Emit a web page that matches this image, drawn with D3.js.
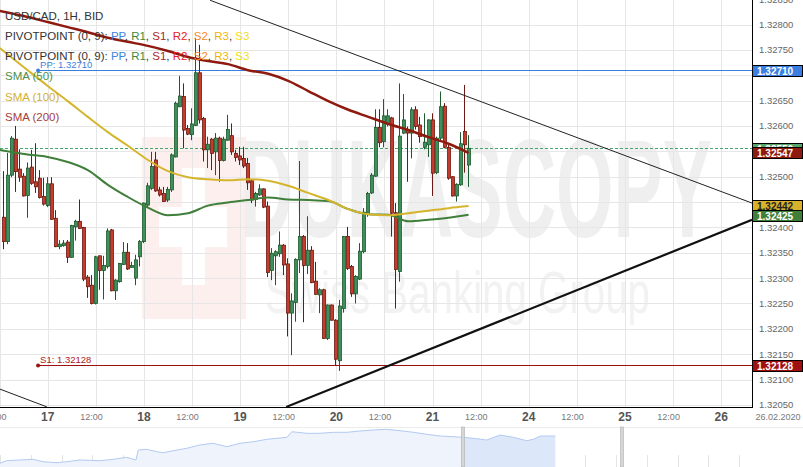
<!DOCTYPE html>
<html><head><meta charset="utf-8">
<script src="https://cdn.jsdelivr.net/npm/d3@7"></script>
<style>body{margin:0;background:#fff;overflow:hidden}svg{display:block;font-family:"Liberation Sans",Arial,sans-serif}</style>
</head><body><svg id="c" width="803" height="467"></svg>
<script>
// ---------- DATA ----------
// hours counted from Mon 17 Feb 2020 00:00 (weekend skipped)
const candleStartHour = -11;
const open  = [1.32420,1.32372,1.32503,1.32574,1.32515,1.32501,1.32463,1.32519,1.32490,1.32497,1.32461,1.32443,1.32486,1.32418,1.32362,1.32364,1.32371,1.32341,1.32401,1.32412,1.32400,1.32302,1.32286,1.32250,1.32344,1.32315,1.32323,1.32395,1.32275,1.32293,1.32327,1.32351,1.32321,1.32300,1.32342,1.32372,1.32444,1.32477,1.32533,1.32474,1.32467,1.32454,1.32474,1.32539,1.32638,1.32658,1.32595,1.32583,1.32601,1.32705,1.32615,1.32553,1.32574,1.32549,1.32576,1.32532,1.32572,1.32581,1.32546,1.32541,1.32536,1.32526,1.32492,1.32455,1.32464,1.32476,1.32442,1.32315,1.32344,1.32348,1.32365,1.32328,1.32231,1.32252,1.32336,1.32382,1.32325,1.32355,1.32294,1.32267,1.32277,1.32181,1.32247,1.32217,1.32137,1.32240,1.32382,1.32323,1.32269,1.32298,1.32352,1.32428,1.32468,1.32501,1.32597,1.32569,1.32604,1.32616,1.32429,1.32313,1.32586,1.32593,1.32586,1.32632,1.32602,1.32558,1.32563,1.32612,1.32508,1.32576,1.32639,1.32558,1.32500,1.32462,1.32484,1.32589,1.32523];
const high  = [1.32511,1.32547,1.32580,1.32600,1.32554,1.32507,1.32528,1.32553,1.32566,1.32513,1.32498,1.32499,1.32499,1.32434,1.32375,1.32375,1.32375,1.32405,1.32415,1.32455,1.32401,1.32306,1.32306,1.32344,1.32344,1.32344,1.32398,1.32397,1.32298,1.32330,1.32371,1.32369,1.32332,1.32346,1.32375,1.32449,1.32488,1.32549,1.32549,1.32480,1.32480,1.32480,1.32546,1.32648,1.32699,1.32684,1.32602,1.32635,1.32774,1.32760,1.32618,1.32579,1.32576,1.32586,1.32579,1.32579,1.32622,1.32605,1.32553,1.32559,1.32559,1.32537,1.32494,1.32470,1.32485,1.32477,1.32451,1.32359,1.32355,1.32392,1.32367,1.32339,1.32270,1.32339,1.32531,1.32385,1.32422,1.32363,1.32332,1.32280,1.32279,1.32248,1.32248,1.32219,1.32257,1.32383,1.32401,1.32326,1.32306,1.32369,1.32438,1.32470,1.32507,1.32633,1.32633,1.32653,1.32633,1.32618,1.32448,1.32684,1.32663,1.32599,1.32637,1.32639,1.32618,1.32625,1.32613,1.32625,1.32579,1.32668,1.32645,1.32563,1.32501,1.32487,1.32588,1.32681,1.32582];
const low   = [1.32357,1.32367,1.32499,1.32470,1.32490,1.32461,1.32419,1.32484,1.32468,1.32457,1.32443,1.32440,1.32415,1.32361,1.32357,1.32362,1.32330,1.32340,1.32374,1.32397,1.32294,1.32261,1.32248,1.32248,1.32277,1.32258,1.32319,1.32274,1.32257,1.32291,1.32326,1.32316,1.32320,1.32286,1.32323,1.32369,1.32440,1.32474,1.32470,1.32461,1.32450,1.32450,1.32470,1.32538,1.32637,1.32556,1.32582,1.32572,1.32600,1.32605,1.32530,1.32517,1.32513,1.32503,1.32490,1.32530,1.32571,1.32543,1.32530,1.32523,1.32517,1.32474,1.32448,1.32441,1.32462,1.32438,1.32302,1.32296,1.32286,1.32342,1.32306,1.32185,1.32148,1.32214,1.32310,1.32213,1.32308,1.32290,1.32267,1.32231,1.32180,1.32178,1.32216,1.32127,1.32117,1.32232,1.32316,1.32263,1.32250,1.32296,1.32349,1.32421,1.32466,1.32500,1.32558,1.32558,1.32599,1.32382,1.32240,1.32293,1.32584,1.32490,1.32536,1.32593,1.32567,1.32554,1.32539,1.32462,1.32505,1.32572,1.32556,1.32494,1.32461,1.32451,1.32482,1.32508,1.32480];
const close = [1.32372,1.32503,1.32576,1.32510,1.32499,1.32462,1.32517,1.32487,1.32480,1.32459,1.32446,1.32486,1.32416,1.32362,1.32367,1.32369,1.32341,1.32404,1.32412,1.32398,1.32298,1.32283,1.32250,1.32342,1.32315,1.32325,1.32393,1.32275,1.32296,1.32329,1.32351,1.32318,1.32325,1.32336,1.32372,1.32448,1.32482,1.32520,1.32472,1.32464,1.32451,1.32475,1.32543,1.32645,1.32659,1.32592,1.32584,1.32604,1.32705,1.32612,1.32553,1.32564,1.32546,1.32576,1.32532,1.32574,1.32593,1.32549,1.32538,1.32533,1.32521,1.32488,1.32454,1.32467,1.32476,1.32440,1.32311,1.32349,1.32352,1.32365,1.32326,1.32231,1.32255,1.32337,1.32382,1.32325,1.32355,1.32291,1.32268,1.32277,1.32181,1.32247,1.32217,1.32140,1.32245,1.32382,1.32319,1.32269,1.32303,1.32353,1.32430,1.32467,1.32503,1.32597,1.32567,1.32620,1.32620,1.32428,1.32317,1.32580,1.32612,1.32586,1.32632,1.32599,1.32579,1.32568,1.32612,1.32507,1.32576,1.32638,1.32558,1.32497,1.32462,1.32485,1.32565,1.32563,1.32556];

const smaHours = [-12,-5,0,5,10,15,20,25,30,35,40,45,50,55,60,65,70,75,80,85,90,95,100,105];
const sma50  = [1.32553,1.32544,1.32539,1.32529,1.32513,1.32484,1.32460,1.32439,1.32424,1.32428,1.32443,1.32449,1.32454,1.32459,1.32455,1.32454,1.32452,1.32436,1.32426,1.32425,1.32412,1.32415,1.32419,1.32425];
const sma100 = [1.32754,1.32710,1.32679,1.32649,1.32618,1.32588,1.32561,1.32533,1.32511,1.32499,1.32495,1.32493,1.32495,1.32492,1.32482,1.32468,1.32454,1.32436,1.32426,1.32424,1.32428,1.32433,1.32438,1.32442];
const sma200 = [1.32827,1.32815,1.32805,1.32795,1.32785,1.32774,1.32766,1.32758,1.32748,1.32736,1.32728,1.32722,1.32710,1.32703,1.32689,1.32669,1.32649,1.32632,1.32618,1.32604,1.32592,1.32578,1.32565,1.32547];

const pivotNames  = ["PP","S1"];
const pivotValues = [1.32710, 1.32128];
const pivotStartHour = -2.4;
const lastClose = 1.32556;

const trendUpper     = [[40.5,1.32848],[175.7,1.32448]];
const trendLowerLeft = [[-11.9,1.32081],[-0.2,1.32046]];
const trendLower     = [[59.5,1.32046],[175.7,1.32415]];

const yTicks = [1.3205,1.3210,1.3215,1.3220,1.3225,1.3230,1.3235,1.3240,1.3245,1.3250,1.3255,1.3260,1.3265,1.3270,1.3275,1.3280,1.3285];
const xTickHours  = [-12,0,12,24,36,48,60,72,84,96,108,120,132,144,156,168];
const xTickLabels = ["12:00","17","12:00","18","12:00","19","12:00","20","12:00","21","12:00","24","12:00","25","12:00","26"];
const dateLabel = "26.02.2020";

const navIndex  = [0,1.7,5.2,8.6,11.2,14.8,17.3,20.8,26,29.4,32.9,35.3,35.9,38.1,40.7,42.4,45,48.5,51.9,55.4,58.9,62.3,65.8,69.3,74.5,75.8,79.7,83.1,86.6,90.1,93.5,97,100.4,103.9,107.4,110.8,114.3,117.7,120.3,122.9,126.4,129.9,133.3,136.8,138.5,140.3,144.2];
const navValues = [8.8,15,16.7,18.3,12.6,10.2,12.6,16.7,15,18.3,23.1,16.7,40.5,42.1,36.4,34,38.8,44.5,52.4,56.4,48.3,56.4,60.2,65.9,70.7,84,80.2,80.2,82.6,82.6,85.7,88.1,89.7,86.4,82.6,77.8,73.8,72.1,70.7,68.3,64.3,76.2,70.7,62.6,65.9,73.8,73.8];
const navWindow = [120.3, 161.6];

const sideLabelValues = [1.32710, 1.32556, 1.32547, 1.32442, 1.32425, 1.32128];

// ---------- LAYOUT ----------
const plotR = 752, plotB = 407;
const x = d3.scaleLinear().domain([-11.9, 175.7]).range([0, plotR]);
const y = d3.scaleLinear().domain([1.320458, 1.328485]).range([plotB, 0]);
const navX = d3.scaleLinear().domain([0, 195.3]).range([0, plotR]);
const navY = d3.scaleLinear().domain([0, 100]).range([467, 425]);
const fmt = d3.format(".5f");

const svg = d3.select("#c");
svg.append("rect").attr("width",803).attr("height",467).attr("fill","#fff");
const defs = svg.append("defs");
defs.append("clipPath").attr("id","plot").append("rect").attr("x",0).attr("y",0).attr("width",plotR).attr("height",plotB);

// watermark
const wm = svg.append("g").attr("clip-path","url(#plot)");
wm.append("rect").attr("x",142).attr("y",137).attr("width",104).attr("height",182).attr("fill","#fcefee");
wm.append("rect").attr("x",182).attr("y",168).attr("width",23).attr("height",117).attr("fill","#fff");
wm.append("rect").attr("x",159).attr("y",207).attr("width",68).attr("height",40).attr("fill","#fff");
wm.append("text").attr("x",240).attr("y",237).attr("font-size",140).attr("font-weight","bold")
  .attr("textLength",472).attr("lengthAdjust","spacingAndGlyphs").attr("fill","#efefef").text("DUKASCOPY");
wm.append("text").attr("x",265).attr("y",313).attr("font-size",60)
  .attr("textLength",385).attr("lengthAdjust","spacingAndGlyphs").attr("fill","#f2f2f2").text("Swiss Banking Group");

// grid
const grid = svg.append("g");
grid.selectAll("line.h").data(yTicks).join("line")
  .attr("x1",0).attr("x2",plotR).attr("y1",d=>Math.round(y(d))+0.5).attr("y2",d=>Math.round(y(d))+0.5)
  .attr("stroke","#e6e6e6");
grid.selectAll("line.v").data(xTickHours).join("line")
  .attr("x1",d=>Math.round(x(d))+0.5).attr("x2",d=>Math.round(x(d))+0.5).attr("y1",0).attr("y2",plotB)
  .attr("stroke","#e6e6e6");

// navigator
const nav = svg.append("g");
nav.append("line").attr("x1",0).attr("x2",803).attr("y1",427.5).attr("y2",427.5).attr("stroke","#ececec");
const navTicks = d3.range(0, 196, 8);
nav.selectAll("line.t").data(navTicks).join("line")
  .attr("x1",d=>Math.round(navX(d))+0.5).attr("x2",d=>Math.round(navX(d))+0.5)
  .attr("y1",455).attr("y2",467).attr("stroke","#e4e4e4");
const navData = navIndex.map((n,i)=>({n, v:navValues[i]}));
const navArea = d3.area().x(d=>navX(d.n)).y0(467).y1(d=>navY(d.v));
nav.append("path").datum(navData).attr("d",navArea).attr("fill","#eef3fc");
defs.append("clipPath").attr("id","navwin").append("rect")
  .attr("x",navX(navWindow[0])).attr("y",420).attr("width",navX(navWindow[1])-navX(navWindow[0])).attr("height",50);
nav.append("path").datum(navData).attr("d",navArea).attr("fill","#dde7fa").attr("clip-path","url(#navwin)");
nav.append("path").datum(navData).attr("d",d3.line().x(d=>navX(d.n)).y(d=>navY(d.v)))
  .attr("fill","none").attr("stroke","#b3caf1").attr("stroke-width",1);
navWindow.forEach(w=>{
  nav.append("rect").attr("x",Math.round(navX(w))-1.5).attr("y",427).attr("width",3).attr("height",40)
    .attr("fill","#d6d6d6").attr("stroke","#b0b0b0").attr("stroke-width",0.6);
});

// main plot layers
const plot = svg.append("g").attr("clip-path","url(#plot)");

// last close dashed
plot.append("line").attr("x1",0).attr("x2",plotR)
  .attr("y1",Math.round(y(lastClose))+0.5).attr("y2",Math.round(y(lastClose))+0.5)
  .attr("stroke","#4aa56a").attr("stroke-dasharray","3,2");

// pivot lines
const pivotColors = ["#3a7fe0","#9b1010"];
pivotValues.forEach((v,i)=>{
  const yy = Math.round(y(v))+0.5;
  plot.append("line").attr("x1",x(pivotStartHour)).attr("x2",plotR).attr("y1",yy).attr("y2",yy)
    .attr("stroke",pivotColors[i]).attr("stroke-width",1);
  plot.append("circle").attr("cx",x(pivotStartHour)).attr("cy",yy).attr("r",2).attr("fill",pivotColors[i]);
  plot.append("text").attr("x",x(pivotStartHour)+2).attr("y",yy-3).attr("font-size",9.5)
    .attr("fill",i===0?"#3a7fe0":"#b02020").text(pivotNames[i]+": "+fmt(v));
});

// candles
const candles = open.map((o,i)=>({t:candleStartHour+i,o,h:high[i],l:low[i],c:close[i]}));
const cg = plot.append("g");
candles.forEach(d=>{
  const up = d.c >= d.o;
  const cx = Math.round(x(d.t));
  const wickCol = up ? "#1d5a2d" : "#6a1a12";
  cg.append("line").attr("x1",cx-0.5).attr("x2",cx-0.5).attr("y1",y(d.h)).attr("y2",y(d.l))
    .attr("stroke",wickCol).attr("stroke-width",1);
  const top = y(Math.max(d.o,d.c)), bot = y(Math.min(d.o,d.c));
  cg.append("rect").attr("x",cx-1.5).attr("y",top).attr("width",3).attr("height",Math.max(1,bot-top))
    .attr("fill", up ? "#3f8f5c" : "#c63c2c").attr("stroke",wickCol).attr("stroke-width",0.8);
});

// SMAs
const smaLine = d3.line().x(d=>x(d[0])).y(d=>y(d[1])).curve(d3.curveMonotoneX);
[[sma50,"#3f7f3a",2],[sma100,"#d5b52c",2],[sma200,"#8e1a0f",2.5]].forEach(([arr,col,w])=>{
  plot.append("path").datum(smaHours.map((h,i)=>[h,arr[i]])).attr("d",smaLine)
    .attr("fill","none").attr("stroke",col).attr("stroke-width",w);
});

// trend lines
const tl = d3.line().x(d=>x(d[0])).y(d=>y(d[1]));
plot.append("path").datum(trendUpper).attr("d",tl).attr("stroke","#222").attr("stroke-width",1).attr("fill","none");
plot.append("path").datum(trendLowerLeft).attr("d",tl).attr("stroke","#222").attr("stroke-width",1).attr("fill","none");
plot.append("path").datum(trendLower).attr("d",tl).attr("stroke","#111").attr("stroke-width",2.2).attr("fill","none");

// axes frame
svg.append("line").attr("x1",0).attr("x2",plotR+1).attr("y1",plotB+0.5).attr("y2",plotB+0.5).attr("stroke","#000");
svg.append("line").attr("x1",plotR+0.5).attr("x2",plotR+0.5).attr("y1",0).attr("y2",plotB+1).attr("stroke","#000");

// side label positions
const sidePos = sideLabelValues.map(v=>y(v));
const gap = 10.5;
if (sidePos[4]-sidePos[3] < gap) { const m=(sidePos[3]+sidePos[4])/2; sidePos[3]=m-gap/2; sidePos[4]=m+gap/2; }

// y axis labels (those hidden behind side labels are skipped)
const visibleTicks = yTicks.filter(v => sidePos.every(p => Math.abs(y(v)-p) > 9));
svg.append("g").selectAll("text").data(visibleTicks).join("text")
  .attr("x",759).attr("y",d=>y(d)+3.5).attr("font-size",9.5).attr("fill","#666").text(d=>fmt(d));

// x axis labels
svg.append("g").selectAll("text").data(xTickHours).join("text")
  .attr("x",(d,i)=>x(d) + (xTickLabels[i].includes(":") ? -4.4 : 0))
  .attr("y",(d,i)=>xTickLabels[i].includes(":") ? 420 : 421)
  .attr("text-anchor","middle")
  .attr("font-size",(d,i)=>xTickLabels[i].includes(":") ? 9 : 12)
  .attr("font-weight",(d,i)=>xTickLabels[i].includes(":") ? "normal" : "bold")
  .attr("fill",(d,i)=>xTickLabels[i].includes(":") ? "#777" : "#555")
  .text((d,i)=>xTickLabels[i]);
svg.append("text").attr("x",778).attr("y",420).attr("text-anchor","middle").attr("font-size",9).attr("fill","#777").text(dateLabel);

// side labels
const sideStyles = [
  {fill:"#3a7fe0", text:"#fff"},
  {fill:"#5aa46e", text:"#fff"},
  {fill:"#8e1a10", text:"#fff"},
  {fill:"#d8b22a", text:"#222"},
  {fill:"#3f7f3a", text:"#fff"},
  {fill:"#a01010", text:"#fff"}
];
const sl = svg.append("g");
sideLabelValues.forEach((v,i)=>{
  const yy = sidePos[i];
  sl.append("rect").attr("x",752.5).attr("y",Math.round(yy-5.5)+0.5).attr("width",50).attr("height",11)
    .attr("fill",sideStyles[i].fill).attr("stroke","#000").attr("stroke-width",1);
  sl.append("text").attr("x",757).attr("y",Math.round(yy-5.5)+9.5).attr("font-size",10).attr("font-weight","bold")
    .attr("fill",sideStyles[i].text).text(fmt(v));
});

// legend
const lg = svg.append("g").attr("font-size",11.5);
lg.append("text").attr("x",5).attr("y",19.5).attr("fill","#333").text("USD/CAD, 1H, BID");
const pivParts = [["PIVOTPOINT (0, 9): ","#333"],["PP","#3d85e0"],[", ","#333"],["R1","#3a8a3a"],[", ","#333"],["S1","#a82a2a"],[", ","#333"],["R2","#e32222"],[", ","#333"],["S2","#f28a26"],[", ","#333"],["R3","#f5b300"],[", ","#333"],["S3","#f0e010"]];
[39.5,59.5].forEach(yy=>{
  const t = lg.append("text").attr("x",5).attr("y",yy);
  pivParts.forEach(p=>t.append("tspan").attr("fill",p[1]).text(p[0]));
});
lg.append("text").attr("x",5).attr("y",79.5).attr("fill","#4f8f4a").text("SMA (50)");
lg.append("text").attr("x",5).attr("y",101).attr("fill","#d2b133").text("SMA (100)");
lg.append("text").attr("x",5).attr("y",120.5).attr("fill","#a8403a").text("SMA (200)");
</script>
</body></html>
